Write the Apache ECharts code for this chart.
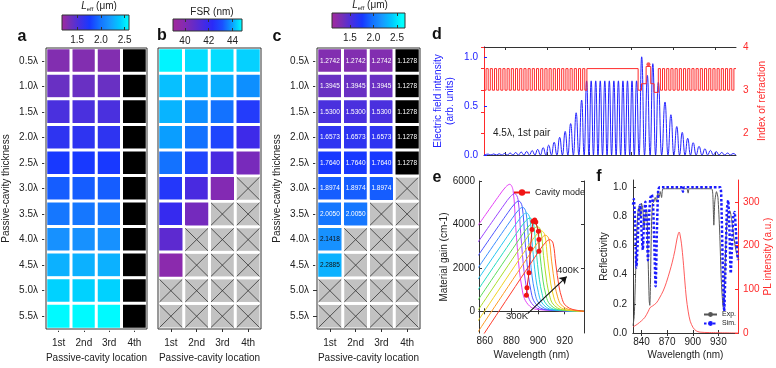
<!DOCTYPE html>
<html>
<head>
<meta charset="utf-8">
<script src="https://cdn.jsdelivr.net/npm/echarts@6/dist/echarts.min.js"></script>
<style>
  html, body { margin: 0; padding: 0; background: #fff; }
  #chart { width: 776px; height: 368px; }
</style>
</head>
<body>
<div id="chart"></div>
<script>
// ---------- data (a, b, c) ----------
const thickness = ['0.5λ', '1.0λ', '1.5λ', '2.0λ', '2.5λ', '3.0λ', '3.5λ', '4.0λ', '4.5λ', '5.0λ', '5.5λ'];
const locations = ['1st', '2nd', '3rd', '4th'];

// L_eff (um) per thickness row, per location column
const leffA = [
  [1.2742, 1.2742, 1.2742, 1.1278],
  [1.3945, 1.3945, 1.3945, 1.1278],
  [1.5300, 1.5300, 1.5300, 1.1278],
  [1.6573, 1.6573, 1.6573, 1.1278],
  [1.7640, 1.7640, 1.7640, 1.1278],
  [1.8974, 1.8974, 1.8974, 1.1278],
  [2.0050, 2.0050, 2.0050, 1.1278],
  [2.1418, 2.1418, 2.1418, 1.1278],
  [2.2885, 2.2885, 2.2885, 1.1278],
  [2.4300, 2.4300, 2.4300, 1.1278],
  [2.5800, 2.5800, 2.5800, 1.1278]
];
// FSR (nm), null = not allowed (crossed)
const fsrB = [
  [44.7, 44.5, 44.5, 44.4],
  [44.25, 44.1, 44.1, 43.8],
  [44.15, 43.8, 43.5, 42.7],
  [43.95, 43.5, 42.9, 41.8],
  [43.5, 42.9, 41.5, 40.3],
  [42.6, 41.5, 40.0, null],
  [42.0, 40.4, null, null],
  [41.0, null, null, null],
  [39.8, null, null, null],
  [null, null, null, null],
  [null, null, null, null]
];
const leffC = [
  [1.2742, 1.2742, 1.2742, 1.1278],
  [1.3945, 1.3945, 1.3945, 1.1278],
  [1.5300, 1.5300, 1.5300, 1.1278],
  [1.6573, 1.6573, 1.6573, 1.1278],
  [1.7640, 1.7640, 1.7640, 1.1278],
  [1.8974, 1.8974, 1.8974, null],
  [2.0050, 2.0050, null, null],
  [2.1418, null, null, null],
  [2.2885, null, null, null],
  [null, null, null, null],
  [null, null, null, null]
];
const leffTicks = [1.5, 2.0, 2.5];
const fsrTicks = [40, 42, 44];

// ---------- data (d) ----------
// field intensity peaks [position, value]; minima reach zero between peaks
const fieldPeaks = [
  [0.99, 0.009], [2.30, 0.011], [3.61, 0.013], [4.92, 0.016], [6.23, 0.02], [7.54, 0.025],
  [8.85, 0.03], [10.16, 0.036], [11.47, 0.045], [12.78, 0.058], [14.09, 0.075], [15.40, 0.1],
  [16.71, 0.13], [18.02, 0.18], [19.33, 0.24], [20.63, 0.32], [21.94, 0.43], [23.25, 0.56],
  [24.44, 0.755], [25.52, 0.755], [26.60, 0.755], [27.68, 0.755], [28.76, 0.755], [29.84, 0.755],
  [30.92, 0.755], [32.00, 0.755], [33.08, 0.755], [34.16, 0.755], [35.24, 0.755], [36.32, 0.755],
  [37.54, 1.0], [38.90, 0.81], [40.20, 0.93], [41.50, 0.74], [43.10, 0.54], [44.50, 0.41],
  [45.90, 0.29], [47.20, 0.23], [48.50, 0.17], [49.80, 0.125], [51.20, 0.088], [52.60, 0.063],
  [53.90, 0.047], [55.30, 0.035], [56.60, 0.026], [58.00, 0.02], [59.30, 0.015]
];
// refractive index profile: [layer start, index]
const indexSteps = [
  [0, 3.0], [0.5, 3.5], [1, 3.0], [1.5, 3.5], [2, 3.0], [2.5, 3.5], [3, 3.0], [3.5, 3.5], [4, 3.0], [4.5, 3.5],
  [5, 3.0], [5.5, 3.5], [6, 3.0], [6.5, 3.5], [7, 3.0], [7.5, 3.5], [8, 3.0], [8.5, 3.5], [9, 3.0], [9.5, 3.5],
  [10, 3.0], [10.5, 3.5], [11, 3.0], [11.5, 3.5], [12, 3.0], [12.5, 3.5], [13, 3.0], [13.5, 3.5], [14, 3.0], [14.5, 3.5],
  [15, 3.0], [15.5, 3.5], [16, 3.0], [16.5, 3.5], [17, 3.0], [17.5, 3.5], [18, 3.0], [18.5, 3.5], [19, 3.0], [19.5, 3.5],
  [20, 3.0], [20.5, 3.5], [21, 3.0], [21.5, 3.5], [22, 3.0], [22.5, 3.5], [23, 3.0], [23.5, 3.5], [24, 3.0],
  [24.5, 3.5],
  [36.7, 3.0], [37.5, 3.15], [38.6, 3.55], [39.7, 3.15], [40.5, 2.95],
  [41.5, 3.5], [42, 3.0], [42.5, 3.5], [43, 3.0], [43.5, 3.5], [44, 3.0], [44.5, 3.5], [45, 3.0], [45.5, 3.5], [46, 3.0],
  [46.5, 3.5], [47, 3.0], [47.5, 3.5], [48, 3.0], [48.5, 3.5], [49, 3.0], [49.5, 3.5], [50, 3.0], [50.5, 3.5], [51, 3.0],
  [51.5, 3.5], [52, 3.0], [52.5, 3.5], [53, 3.0], [53.5, 3.5], [54, 3.0], [54.5, 3.5], [55, 3.0], [55.5, 3.5], [56, 3.0],
  [56.5, 3.5], [57, 3.0], [57.5, 3.5], [58, 3.0], [58.5, 3.5], [59, 3.0], [59.5, 3.5], [60, 3.5]
];
const activeDot = [[39.15, 3.6]];

// ---------- data (e) ----------
const gain300 = [[855, 3956], [870.8, 5330], [875.8, 5730], [878.8, 5850], [881.3, 5558], [883.3, 3861], [885.8, 1989], [887.8, 1112], [889.8, 585], [893.8, 234], [898.8, 88], [934.5, 0]];
const gain310 = [[855, 3189], [874.5, 4900], [879.5, 5300], [882.5, 5420], [885.0, 5149], [887.0, 3577], [889.5, 1843], [891.5, 1030], [893.5, 542], [897.5, 217], [902.5, 81], [934.5, 0]];
const gain320 = [[855, 2563], [877.6, 4560], [882.6, 4960], [885.6, 5080], [888.1, 4826], [890.1, 3353], [892.6, 1727], [894.6, 965], [896.6, 508], [900.6, 203], [905.6, 76], [934.5, 0]];
const gain330 = [[855, 2002], [880.5, 4270], [885.5, 4670], [888.5, 4790], [891.0, 4551], [893.0, 3161], [895.5, 1629], [897.5, 910], [899.5, 479], [903.5, 192], [908.5, 72], [934.5, 0]];
const gain340 = [[855, 1478], [883.3, 4010], [888.3, 4410], [891.3, 4530], [893.8, 4304], [895.8, 2990], [898.3, 1540], [900.3, 861], [902.3, 453], [906.3, 181], [911.3, 68], [934.5, 0]];
const gain350 = [[855, 990], [886.0, 3780], [891.0, 4180], [894.0, 4300], [896.5, 4085], [898.5, 2838], [901.0, 1462], [903.0, 817], [905.0, 430], [909.0, 172], [914.0, 65], [934.5, 0]];
const gain360 = [[855, 521], [888.8, 3580], [893.8, 3980], [896.8, 4100], [899.3, 3895], [901.3, 2706], [903.8, 1394], [905.8, 779], [907.8, 410], [911.8, 164], [916.8, 62], [934.5, 0]];
const gain370 = [[855, 50], [891.6, 3380], [896.6, 3780], [899.6, 3900], [902.1, 3705], [904.1, 2574], [906.6, 1326], [908.6, 741], [910.6, 390], [914.6, 156], [919.6, 59], [934.5, 0]];
const gain380 = [[855, -441], [894.6, 3180], [899.6, 3580], [902.6, 3700], [905.1, 3515], [907.1, 2442], [909.6, 1258], [911.6, 703], [913.6, 370], [917.6, 148], [922.6, 56], [934.5, 0]];
const gain390 = [[855, -944], [897.7, 2980], [902.7, 3380], [905.7, 3500], [908.2, 3325], [910.2, 2310], [912.7, 1190], [914.7, 665], [916.7, 350], [920.7, 140], [925.7, 53], [934.5, 0]];
const gain400 = [[855, -1450], [900.8, 2780], [905.8, 3180], [908.8, 3300], [911.3, 3135], [913.3, 2178], [915.8, 1122], [917.8, 627], [919.8, 330], [923.8, 132], [928.8, 50], [934.5, 0]];
const gainCurves = [gain300, gain310, gain320, gain330, gain340, gain350, gain360, gain370, gain380, gain390, gain400];
const cavityMode = [[891.3, 740], [891.7, 1080], [893.2, 1770], [894.3, 2880], [895.5, 3770], [896.2, 4150], [897.5, 4200], [898.3, 4110], [900.3, 3690], [900.7, 3310], [900.7, 2770]];

// ---------- data (f) ----------
const reflExp = [
  [830, 0.05], [831.5, 0.12], [833, 0.4], [834.5, 0.7], [836, 0.84], [837.5, 0.87], [839, 0.8], [840, 0.89],
  [841.5, 0.85], [843, 0.72], [844.5, 0.82], [846, 0.84], [847.5, 0.55], [849, 0.22], [849.7, 0.19], [850.5, 0.35],
  [851.5, 0.7], [852.8, 0.89], [854.5, 0.9], [856, 0.93], [857.5, 0.9], [859, 0.96], [860.5, 0.93], [862, 0.97],
  [863.5, 0.93], [865.3, 0.99], [880, 0.99], [893, 0.99], [894.6, 0.96], [896, 0.99], [922, 0.99], [923.5, 0.95],
  [924.7, 0.74], [925.8, 0.9], [927.8, 0.97], [929.5, 0.93], [931.5, 0.7], [933.5, 0.35], [935.6, 0.18], [937, 0.3],
  [939, 0.65], [941, 0.82], [943.4, 0.84], [945.5, 0.78], [948, 0.66], [950.5, 0.57], [953, 0.51]
];
const reflSim = [
  [830, 0.88], [831, 0.92], [832.5, 0.75], [834, 0.45], [835.5, 0.62], [837, 0.85], [838.5, 0.88], [840, 0.7],
  [841.5, 0.57], [843, 0.8], [844.5, 0.9], [846, 0.75], [847.5, 0.5], [849, 0.82], [850.5, 0.93], [852, 0.95],
  [853.5, 0.88], [855, 0.6], [856.5, 0.32], [858, 0.7], [859.5, 0.98], [861, 1.0], [887, 1.0], [888.5, 0.97],
  [890, 1.0], [932, 1.0], [933.5, 0.9], [935, 0.5], [936.8, 0.15], [938.5, 0.5], [940, 0.85], [941.5, 0.91],
  [943, 0.7], [944.5, 0.41], [946, 0.6], [947.5, 0.8], [949, 0.83], [950.5, 0.7], [952, 0.55], [953, 0.5]
];
const plCurve = [
  [830, 14], [835, 20], [840, 28], [844, 36], [848, 50], [850, 58], [853, 62], [857.5, 69], [861, 80],
  [865.3, 96], [869, 115], [873.2, 142], [876, 162], [879, 188], [881.5, 215], [883.2, 228], [884.1, 231],
  [885, 226], [886.8, 204], [888.8, 165], [890.7, 119], [892.5, 80], [894.6, 50], [897, 27], [900.5, 12],
  [904, 5], [908.3, 2], [920, 1], [953, 0]
];

// ---------- styling ----------
const FONT = 'Liberation Sans, Arial, sans-serif';
const INK = '#222';
const BLUE = '#2222ff';
const RED = '#ff2a2a';
const leffColors = ['#a02aa0', '#7530b8', '#4530e2', '#1838ff', '#1470ff', '#1898ff', '#00c8ff', '#00ffff'];
const fsrColors = ['#a0289c', '#8a2aae', '#6a2ac4', '#4a2ae0', '#2a2af8', '#1a50ff', '#0aa0ff', '#00ffff'];
const LEFF_MIN = 1.13, LEFF_MAX = 2.6, FSR_MIN = 39.0, FSR_MAX = 44.8;
const tempColors = ['#e441f5', '#9b45ff', '#4f55ff', '#3a8cff', '#27c6f2', '#23dcc0', '#5bde5b', '#a8df2a', '#f0d21e', '#ff9a22', '#ff3b2b'];

// cells inside the colour scale (below=false) or under it (below=true, drawn black)
function heatData(rows, below, dark) {
  const out = [];
  rows.forEach((row, r) => row.forEach((v, c) => {
    if (v == null) return;
    if ((v < LEFF_MIN) !== below) return;
    const item = { value: [c, r, v] };
    if (dark && v > 2.1 && v < 2.4) item.label = { color: '#111' };
    out.push(item);
  }));
  return out;
}
function crossData(rows) {
  const out = [];
  rows.forEach((row, r) => row.forEach((v, c) => { if (v == null) out.push([c, r]); }));
  return out;
}
function renderCross(params, api) {
  const p = api.coord([api.value(0), api.value(1)]);
  const s = api.size([1, 1]);
  const w = s[0] - 3, h = s[1] - 3;
  const x0 = p[0] - w / 2, y0 = p[1] - h / 2;
  return {
    type: 'group',
    children: [
      { type: 'rect', shape: { x: x0, y: y0, width: w, height: h }, style: { fill: '#c2c2c2' } },
      { type: 'line', shape: { x1: x0, y1: y0, x2: x0 + w, y2: y0 + h }, style: { stroke: '#333', lineWidth: 0.8 } },
      { type: 'line', shape: { x1: x0 + w, y1: y0, x2: x0, y2: y0 + h }, style: { stroke: '#333', lineWidth: 0.8 } }
    ]
  };
}
function barGradient(colors, vmin, vmax, lo, hi) {
  const stops = colors.map((c, i) => {
    const v = vmin + (vmax - vmin) * i / (colors.length - 1);
    return { offset: Math.min(1, Math.max(0, (v - lo) / (hi - lo))), color: c };
  });
  return new echarts.graphic.LinearGradient(0, 0, 1, 0, stops);
}

// field line: minima at zero between the read peaks
const fieldLine = [[0, 0]];
fieldPeaks.forEach((p, i) => {
  if (i > 0) fieldLine.push([(fieldPeaks[i - 1][0] + p[0]) / 2, 0]);
  fieldLine.push(p);
});
fieldLine.push([60, 0]);

const frame = { show: true, z: 5, backgroundColor: 'transparent', borderColor: '#333', borderWidth: 1 };
const lbl = { fontSize: 10, color: INK, fontFamily: FONT };
const plain = v => String(v);

function heatX(gi) {
  return {
    type: 'category', gridIndex: gi, data: locations, position: 'bottom',
    axisLine: { show: false },
    axisTick: { show: true, alignWithLabel: true, length: 3, lineStyle: { color: '#333' } },
    axisLabel: Object.assign({ margin: 9 }, lbl),
    splitLine: { show: false },
    name: 'Passive-cavity location', nameLocation: 'middle', nameGap: 24, nameTextStyle: lbl
  };
}
function heatY(gi, labels) {
  return {
    type: 'category', gridIndex: gi, data: thickness, inverse: true,
    axisLine: { show: false },
    axisTick: { show: labels, alignWithLabel: true, length: 4, lineStyle: { color: '#333' } },
    axisLabel: Object.assign({ show: labels, margin: 8 }, lbl),
    splitLine: { show: false },
    name: labels ? 'Passive-cavity thickness' : '', nameLocation: 'middle', nameGap: 35, nameTextStyle: lbl
  };
}
function barX(gi, min, max, ticks, pos, fmt) {
  return {
    type: 'value', gridIndex: gi, min: min, max: max, position: pos, z: 6,
    axisLine: { show: false }, splitLine: { show: false },
    axisTick: { show: true, inside: true, length: 3, customValues: ticks, lineStyle: { color: '#333' } },
    axisLabel: Object.assign({ show: pos === 'bottom', customValues: ticks, margin: 5, formatter: fmt }, lbl)
  };
}
function plainAxis(gi, min, max, pos, ticks, extra) {
  return Object.assign({
    type: 'value', gridIndex: gi, min: min, max: max, position: pos,
    axisLine: { show: true, lineStyle: { color: '#333', width: 1 } },
    axisTick: { show: true, inside: true, length: 3, customValues: ticks, lineStyle: { color: '#333' } },
    axisLabel: Object.assign({ show: false, customValues: ticks }, lbl),
    splitLine: { show: false }
  }, extra || {});
}

const chart = echarts.init(document.getElementById('chart'));

const eSeries = gainCurves.map((d, i) => ({
  type: 'line', name: (300 + 10 * i) + 'K', xAxisIndex: 11, yAxisIndex: 8, data: d,
  symbol: 'none', smooth: 0.35, lineStyle: { color: tempColors[i], width: 1 }, z: 2
}));

const cellLabel = { show: true, color: '#fff', fontSize: 6.5, fontFamily: FONT, formatter: p => p.value[2].toFixed(4) };

chart.setOption({
  animation: false,
  textStyle: { fontFamily: FONT },
  grid: [
    Object.assign({ left: 45, top: 48, width: 102, height: 285 }, frame),
    Object.assign({ left: 158, top: 48, width: 103, height: 285 }, frame),
    Object.assign({ left: 317, top: 48, width: 103, height: 285 }, frame),
    Object.assign({ left: 62, top: 15, width: 67, height: 15 }, frame),
    Object.assign({ left: 173, top: 19, width: 69, height: 12 }, frame),
    Object.assign({ left: 332, top: 13, width: 73, height: 15 }, frame),
    { left: 484, top: 47, width: 252, height: 108 },
    { left: 479, top: 181, width: 105, height: 152 },
    { left: 633, top: 180, width: 105, height: 153 }
  ],
  xAxis: [
    heatX(0), heatX(1), heatX(2),
    barX(3, 1.18, 2.59, leffTicks, 'bottom', v => v.toFixed(1)),
    barX(3, 1.18, 2.59, leffTicks, 'top'),
    barX(4, FSR_MIN, FSR_MAX, fsrTicks, 'bottom', plain),
    barX(4, FSR_MIN, FSR_MAX, fsrTicks, 'top'),
    barX(5, 1.12, 2.67, leffTicks, 'bottom', v => v.toFixed(1)),
    barX(5, 1.12, 2.67, leffTicks, 'top'),
    plainAxis(6, 0, 60, 'bottom', [5, 15, 25, 35, 45, 55]),
    plainAxis(6, 0, 60, 'top', [5, 15, 25, 35, 45, 55]),
    plainAxis(7, 855.7, 934.5, 'bottom', [860, 880, 900, 920], {
      axisLabel: Object.assign({ show: true, customValues: [860, 880, 900, 920], margin: 3, formatter: plain }, lbl),
      name: 'Wavelength (nm)', nameLocation: 'middle', nameGap: 17, nameTextStyle: lbl
    }),
    plainAxis(7, 855.7, 934.5, 'top', [860, 880, 900, 920]),
    plainAxis(8, 830, 953, 'bottom', [840, 870, 900, 930], {
      axisLabel: Object.assign({ show: true, customValues: [840, 870, 900, 930], margin: 4, formatter: plain }, lbl),
      name: 'Wavelength (nm)', nameLocation: 'middle', nameGap: 17, nameTextStyle: lbl
    }),
    plainAxis(8, 830, 953, 'top', [840, 870, 900, 930])
  ],
  yAxis: [
    heatY(0, true), heatY(1, false), heatY(2, true),
    { type: 'value', gridIndex: 3, min: 0, max: 1, show: false },
    { type: 'value', gridIndex: 4, min: 0, max: 1, show: false },
    { type: 'value', gridIndex: 5, min: 0, max: 1, show: false },
    plainAxis(6, 0, 1.1, 'left', [0, 0.5, 1.0], {
      axisLine: { show: true, lineStyle: { color: BLUE } },
      axisTick: { show: true, inside: true, length: 3, customValues: [0, 0.5, 1.0], lineStyle: { color: BLUE } },
      axisLabel: { show: true, customValues: [0, 0.5, 1.0], formatter: v => v.toFixed(1), margin: 6, fontSize: 10, color: BLUE, fontFamily: FONT },
      name: 'Electric field intensity\n(arb. units)', nameLocation: 'middle', nameGap: 28,
      nameTextStyle: { fontSize: 10, color: BLUE, lineHeight: 12, fontFamily: FONT }
    }),
    plainAxis(6, 1.5, 4, 'right', [2, 2.5, 3, 3.5, 4], {
      axisLine: { show: true, lineStyle: { color: RED } },
      axisTick: { show: true, inside: true, length: 3, customValues: [2, 2.5, 3, 3.5, 4], lineStyle: { color: RED } },
      axisLabel: { show: true, customValues: [2, 3, 4], margin: 7, fontSize: 10, color: RED, fontFamily: FONT },
      name: 'Index of refraction', nameLocation: 'middle', nameGap: 21,
      nameTextStyle: { fontSize: 10, color: RED, fontFamily: FONT }
    }),
    plainAxis(7, -1000, 6000, 'left', [0, 2000, 4000, 6000], {
      axisLabel: Object.assign({ show: true, customValues: [0, 2000, 4000, 6000], margin: 4, formatter: plain }, lbl),
      name: 'Material gain (cm-1)', nameLocation: 'middle', nameGap: 30, nameTextStyle: lbl
    }),
    plainAxis(7, -1000, 6000, 'right', [0, 2000, 4000, 6000]),
    plainAxis(8, 0, 1.05, 'left', [0, 0.2, 0.4, 0.6, 0.8, 1.0], {
      axisLabel: Object.assign({ show: true, customValues: [0, 0.2, 0.4, 0.6, 0.8, 1.0], formatter: v => v.toFixed(1), margin: 6 }, lbl),
      name: 'Reflectivity', nameLocation: 'middle', nameGap: 24, nameTextStyle: lbl
    }),
    plainAxis(8, 0, 350, 'right', [0, 100, 200, 300], {
      axisLine: { show: true, lineStyle: { color: RED } },
      axisTick: { show: true, inside: true, length: 3, customValues: [0, 100, 200, 300], lineStyle: { color: RED } },
      axisLabel: { show: true, customValues: [0, 100, 200, 300], margin: 5, fontSize: 10, color: RED, fontFamily: FONT, formatter: plain },
      name: 'PL intensity (a.u.)', nameLocation: 'middle', nameGap: 25,
      nameTextStyle: { fontSize: 10, color: RED, fontFamily: FONT }
    })
  ],
  visualMap: [
    { type: 'continuous', show: false, seriesIndex: [0, 2], dimension: 2, min: LEFF_MIN, max: LEFF_MAX,
      inRange: { color: leffColors } },
    { type: 'continuous', show: false, seriesIndex: 1, dimension: 2, min: FSR_MIN, max: FSR_MAX,
      inRange: { color: fsrColors } }
  ],
  legend: [
    { data: ['Cavity mode'], left: 513, top: 188, padding: 0, itemWidth: 16, itemHeight: 8, itemGap: 4,
      textStyle: { fontSize: 9, color: INK, fontFamily: FONT } },
    { data: ['Exp.', 'Sim.'], orient: 'vertical', left: 703, top: 311, padding: 0, itemWidth: 13, itemHeight: 6, itemGap: 2,
      textStyle: { fontSize: 7, color: INK, fontFamily: FONT } }
  ],
  series: [
    { type: 'heatmap', xAxisIndex: 0, yAxisIndex: 0, data: heatData(leffA, false, false),
      itemStyle: { borderColor: '#fff', borderWidth: 3 }, emphasis: { disabled: true } },
    { type: 'heatmap', xAxisIndex: 1, yAxisIndex: 1, data: heatData(fsrB, false, false),
      itemStyle: { borderColor: '#fff', borderWidth: 3 }, emphasis: { disabled: true } },
    { type: 'heatmap', xAxisIndex: 2, yAxisIndex: 2, data: heatData(leffC, false, true),
      itemStyle: { borderColor: '#fff', borderWidth: 3 }, emphasis: { disabled: true }, label: cellLabel },
    { type: 'custom', xAxisIndex: 1, yAxisIndex: 1, data: crossData(fsrB), renderItem: renderCross, silent: true },
    { type: 'custom', xAxisIndex: 2, yAxisIndex: 2, data: crossData(leffC), renderItem: renderCross, silent: true },

    { type: 'line', xAxisIndex: 9, yAxisIndex: 6, data: fieldLine, symbol: 'none', smooth: 0.5, smoothMonotone: 'x',
      lineStyle: { color: BLUE, width: 1 } },
    { type: 'line', xAxisIndex: 9, yAxisIndex: 7, data: indexSteps, symbol: 'none', step: 'end',
      lineStyle: { color: RED, width: 1 } },
    { type: 'scatter', xAxisIndex: 9, yAxisIndex: 7, data: activeDot, symbolSize: 4, itemStyle: { color: RED } },

    ...eSeries,
    { type: 'line', name: 'Cavity mode', xAxisIndex: 11, yAxisIndex: 8, data: cavityMode,
      symbol: 'circle', symbolSize: 5, itemStyle: { color: '#f01414' }, lineStyle: { color: '#f01414', width: 1 }, z: 4,
      markLine: {
        silent: true, symbol: ['none', 'arrow'], symbolSize: 7, label: { show: false },
        lineStyle: { color: '#111', width: 1.1, type: 'solid', curveness: -0.4 },
        data: [[{ coord: [892.2, -110] }, { coord: [921.5, 1600] }]]
      } },

    { type: 'line', name: 'Exp.', xAxisIndex: 13, yAxisIndex: 10, data: reflExp, symbol: 'none', smooth: 0.2,
      lineStyle: { color: '#555', width: 1 }, itemStyle: { color: '#555' } },
    { type: 'line', name: 'Sim.', xAxisIndex: 13, yAxisIndex: 10, data: reflSim, symbol: 'none', smooth: 0.2,
      lineStyle: { color: '#1a1aff', width: 2.5, type: [2.5, 2] }, itemStyle: { color: '#1a1aff' } },
    { type: 'line', name: 'PL', xAxisIndex: 13, yAxisIndex: 11, data: plCurve, symbol: 'none', smooth: 0.3,
      lineStyle: { color: '#ff4a4a', width: 0.9 } },

    // cells below the L_eff colour scale are drawn black
    { type: 'heatmap', xAxisIndex: 0, yAxisIndex: 0, data: heatData(leffA, true, false),
      itemStyle: { color: '#000', borderColor: '#fff', borderWidth: 3 }, emphasis: { disabled: true } },
    { type: 'heatmap', xAxisIndex: 2, yAxisIndex: 2, data: heatData(leffC, true, false),
      itemStyle: { color: '#000', borderColor: '#fff', borderWidth: 3 }, emphasis: { disabled: true }, label: cellLabel }
  ],
  graphic: [
    { type: 'rect', z: 3, shape: { x: 62, y: 15, width: 67, height: 15 }, style: { fill: barGradient(leffColors, LEFF_MIN, LEFF_MAX, 1.18, 2.59) } },
    { type: 'rect', z: 3, shape: { x: 173, y: 19, width: 69, height: 12 }, style: { fill: barGradient(fsrColors, FSR_MIN, FSR_MAX, FSR_MIN, FSR_MAX) } },
    { type: 'rect', z: 3, shape: { x: 332, y: 13, width: 73, height: 15 }, style: { fill: barGradient(leffColors, LEFF_MIN, LEFF_MAX, 1.12, 2.67) } },
    { type: 'text', x: 99, y: 6, style: { text: '{i|L}{s|eff}{n| (μm)}', align: 'center', verticalAlign: 'middle',
      rich: { i: { fontStyle: 'italic', fontSize: 10, lineHeight: 13, fontFamily: FONT, fill: INK },
              s: { fontSize: 6, lineHeight: 13, verticalAlign: 'bottom', fontFamily: FONT, fill: INK },
              n: { fontSize: 10, lineHeight: 13, fontFamily: FONT, fill: INK } } } },
    { type: 'text', x: 370, y: 5, style: { text: '{i|L}{s|eff}{n| (μm)}', align: 'center', verticalAlign: 'middle',
      rich: { i: { fontStyle: 'italic', fontSize: 10, lineHeight: 13, fontFamily: FONT, fill: INK },
              s: { fontSize: 6, lineHeight: 13, verticalAlign: 'bottom', fontFamily: FONT, fill: INK },
              n: { fontSize: 10, lineHeight: 13, fontFamily: FONT, fill: INK } } } },
    { type: 'text', x: 212, y: 12, style: { text: 'FSR (nm)', align: 'center', verticalAlign: 'middle', font: '10px ' + FONT, fill: INK } },
    { type: 'text', x: 22, y: 37, style: { text: 'a', align: 'center', verticalAlign: 'middle', font: 'bold 16px ' + FONT, fill: '#111' } },
    { type: 'text', x: 162, y: 36, style: { text: 'b', align: 'center', verticalAlign: 'middle', font: 'bold 16px ' + FONT, fill: '#111' } },
    { type: 'text', x: 277, y: 37, style: { text: 'c', align: 'center', verticalAlign: 'middle', font: 'bold 16px ' + FONT, fill: '#111' } },
    { type: 'text', x: 437, y: 35, style: { text: 'd', align: 'center', verticalAlign: 'middle', font: 'bold 16px ' + FONT, fill: '#111' } },
    { type: 'text', x: 437, y: 178, style: { text: 'e', align: 'center', verticalAlign: 'middle', font: 'bold 16px ' + FONT, fill: '#111' } },
    { type: 'text', x: 599, y: 177, style: { text: 'f', align: 'center', verticalAlign: 'middle', font: 'bold 16px ' + FONT, fill: '#111' } },
    { type: 'text', x: 493, y: 133, style: { text: '4.5λ, 1st pair', align: 'left', verticalAlign: 'middle', font: '10px ' + FONT, fill: INK } },
    { type: 'text', x: 506, y: 316, style: { text: '300K', align: 'left', verticalAlign: 'middle', font: '9.5px ' + FONT, fill: INK } },
    { type: 'text', x: 557, y: 270, style: { text: '400K', align: 'left', verticalAlign: 'middle', font: '9.5px ' + FONT, fill: INK } }
  ]
});
</script>
</body>
</html>
